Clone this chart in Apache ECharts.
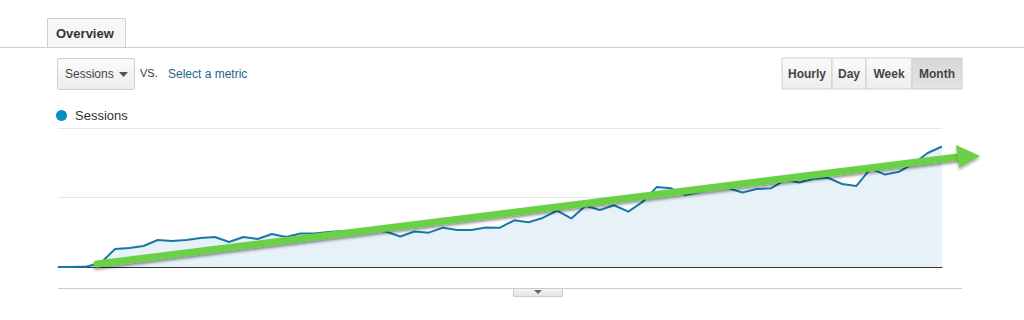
<!DOCTYPE html>
<html>
<head>
<meta charset="utf-8">
<style>
  html, body { margin: 0; padding: 0; background: #fff; }
  #chart { width: 1024px; height: 320px; }
</style>
<script src="https://cdn.jsdelivr.net/npm/echarts@6/dist/echarts.min.js"></script>
</head>
<body>
<div id="chart"></div>
<script>
// ---- data (monthly sessions) ----
const months = [];
for (let i = 1; i <= 63; i++) months.push('M' + i);
const sessions = [
  0, 0, 40, 290, 1300, 1370, 1510, 1940, 1870, 1940,
  2090, 2160, 1800, 2160, 2010, 2370, 2160, 2410, 2410, 2520,
  2590, 2630, 2630, 2550, 2190, 2550, 2470, 2830, 2660, 2660,
  2840, 2830, 3360, 3220, 3530, 4060, 3490, 4410, 4100, 4440,
  3980, 4680, 5760, 5660, 5180, 5400, 5610, 5680, 5360, 5610,
  5660, 6260, 6080, 6350, 6420, 5970, 5830, 7090, 6650, 6860,
  7450, 8200, 8670
];
const yTicks = [0, 5000, 10000];
const legendLabel = 'Sessions';
const granularity = ['Hourly', 'Day', 'Week', 'Month'];

const FONT = 'Liberation Sans, Arial, sans-serif';
const chart = echarts.init(document.getElementById('chart'), null, { renderer: 'svg' });

const grad = (a, b) => new echarts.graphic.LinearGradient(0, 0, 0, 1, [
  { offset: 0, color: a }, { offset: 1, color: b }
]);

// granularity buttons
const btnEdges = [782, 832, 866, 912, 962];
const buttons = [];
granularity.forEach((g, i) => {
  const x0 = btnEdges[i], x1 = btnEdges[i + 1];
  const sel = i === granularity.length - 1;
  buttons.push({
    type: 'rect', shape: { x: x0, y: 58, width: x1 - x0, height: 31 },
    style: { fill: sel ? grad('#d8d8d8', '#e4e4e4') : grad('#fbfbfb', '#ededed'), stroke: '#cfcfcf', lineWidth: 1 }
  });
  buttons.push({
    type: 'text', x: (x0 + x1) / 2, y: 74,
    style: { text: g, fill: '#444', font: 'bold 12px ' + FONT, align: 'center', verticalAlign: 'middle' }
  });
});

// arrow annotation
const ax0 = 97, ay0 = 264, ax1 = 958, ay1 = 157;

chart.setOption({
  animation: false,
  grid: { left: 58, right: 82, top: 128, bottom: 53 },
  legend: {
    left: 51, top: 104, icon: 'circle', itemWidth: 11, itemHeight: 11, itemGap: 6,
    textStyle: { fontFamily: FONT, fontSize: 13, color: '#333', padding: [0, 0, 0, 3] },
    data: [legendLabel]
  },
  xAxis: {
    type: 'category', data: months, boundaryGap: false,
    axisLine: { show: true, lineStyle: { color: '#333', width: 1 } },
    axisTick: { show: false }, axisLabel: { show: false }, splitLine: { show: false }
  },
  yAxis: {
    type: 'value', min: yTicks[0], max: yTicks[yTicks.length - 1], interval: yTicks[1] - yTicks[0],
    axisLine: { show: false }, axisTick: { show: false }, axisLabel: { show: false },
    splitLine: { lineStyle: { color: '#e6e6e6', width: 1 } }
  },
  series: [{
    name: legendLabel, type: 'line', data: sessions, symbol: 'none', z: 2,
    itemStyle: { color: '#058dc7' },
    lineStyle: { color: '#1a78a8', width: 2 },
    areaStyle: { color: '#e6f1f8', opacity: 1 }
  }],
  graphic: [
    // top tab strip
    { type: 'line', shape: { x1: 0, y1: 47.5, x2: 1024, y2: 47.5 }, style: { stroke: '#cfcfcf', lineWidth: 1 } },
    { type: 'rect', shape: { x: 47.5, y: 18.5, width: 78, height: 29 }, style: { fill: '#f6f6f6', stroke: '#cfcfcf', lineWidth: 1 } },
    { type: 'text', x: 56, y: 33, style: { text: 'Overview', fill: '#333', font: 'bold 13px ' + FONT, verticalAlign: 'middle' } },
    // metric dropdown
    { type: 'rect', shape: { x: 57.5, y: 58.5, width: 77, height: 31, r: 2 }, style: { fill: grad('#fcfcfc', '#ececec'), stroke: '#cfcfcf', lineWidth: 1 } },
    { type: 'text', x: 65, y: 74, style: { text: 'Sessions', fill: '#444', font: '12px ' + FONT, verticalAlign: 'middle' } },
    { type: 'polygon', shape: { points: [[119, 72], [128, 72], [123.5, 77]] }, style: { fill: '#555' } },
    { type: 'text', x: 140, y: 73, style: { text: 'VS.', fill: '#333', font: '11px ' + FONT, verticalAlign: 'middle' } },
    { type: 'text', x: 168, y: 74, style: { text: 'Select a metric', fill: '#1f5f8f', font: '12px ' + FONT, verticalAlign: 'middle' } },
    // bottom divider and expander
    { type: 'line', shape: { x1: 58, y1: 288.5, x2: 962, y2: 288.5 }, style: { stroke: '#cccccc', lineWidth: 1 } },
    { type: 'rect', shape: { x: 513.5, y: 288.5, width: 49, height: 8 }, style: { fill: grad('#f5f5f5', '#e3e3e3'), stroke: '#cccccc', lineWidth: 1 } },
    { type: 'polygon', shape: { points: [[534, 290], [542, 290], [538, 294]] }, style: { fill: '#666' } },
    ...buttons,
    // green trend arrow
    { type: 'line', z: 100, shape: { x1: ax0, y1: ay0, x2: ax1, y2: ay1 },
      style: { stroke: '#6ad044', lineWidth: 7, lineCap: 'round', shadowBlur: 3, shadowColor: 'rgba(0,0,0,0.45)', shadowOffsetY: 2 } },
    { type: 'polygon', z: 100, shape: { points: [[956, 145], [980, 156], [959, 168]] },
      style: { fill: '#6ad044', shadowBlur: 3, shadowColor: 'rgba(0,0,0,0.35)', shadowOffsetY: 2 } }
  ]
});
</script>
</body>
</html>
